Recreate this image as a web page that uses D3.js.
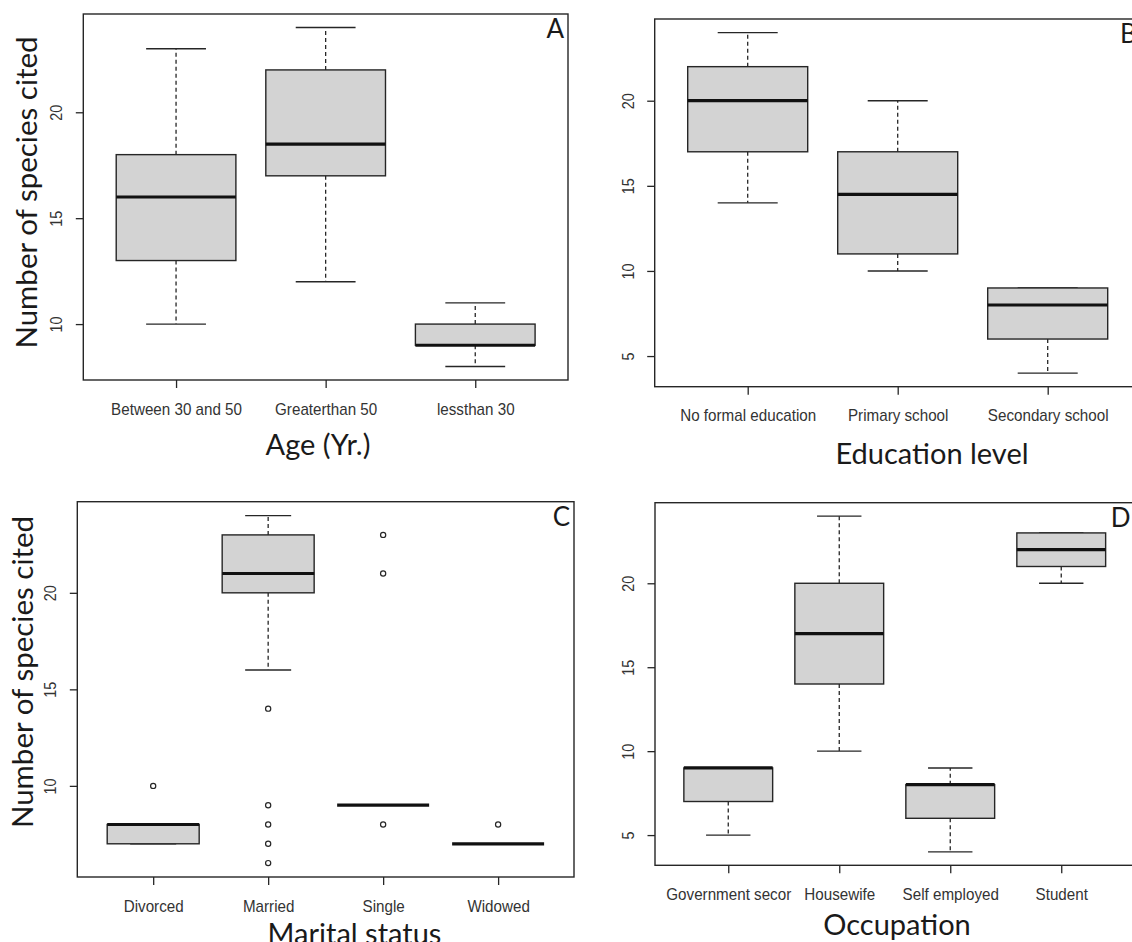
<!DOCTYPE html>
<html>
<head>
<meta charset="utf-8">
<script src="https://cdn.jsdelivr.net/npm/d3@7"></script>
<style>
  html, body { margin: 0; padding: 0; background: #fff; }
  svg { display: block; }
</style>
</head>
<body>
<svg id="chart" width="1132" height="942"></svg>
<script>
// ---- Data: five-number summaries [lower whisker, Q1, median, Q3, upper whisker] ----
const ageGroups = ["Between 30 and 50", "Greaterthan 50", "lessthan 30"];
const ageStats = [[10, 13, 16, 18, 23], [12, 17, 18.5, 22, 24], [8, 9, 9, 10, 11]];
const ageOutliers = [[], [], []];
const ageTicks = [10, 15, 20];

const educationLevels = ["No formal education", "Primary school", "Secondary school"];
const educationStats = [[14, 17, 20, 22, 24], [10, 11, 14.5, 17, 20], [4, 6, 8, 9, 9]];
const educationOutliers = [[], [], []];
const educationTicks = [5, 10, 15, 20];

const maritalGroups = ["Divorced", "Married", "Single", "Widowed"];
const maritalStats = [[7, 7, 8, 8, 8], [16, 20, 21, 23, 24], [9, 9, 9, 9, 9], [7, 7, 7, 7, 7]];
const maritalOutliers = [[10], [14, 9, 8, 7, 6], [23, 21, 8], [8]];
const maritalTicks = [10, 15, 20];

const occupations = ["Government secor", "Housewife", "Self employed", "Student"];
const occupationStats = [[5, 7, 9, 9, 9], [10, 14, 17, 20, 24], [4, 6, 8, 8, 9], [20, 21, 22, 23, 23]];
const occupationOutliers = [[], [], [], []];
const occupationTicks = [5, 10, 15, 20];

// ---- Panel layout ----
const panels = [
  { letter: "A", cats: ageGroups, stats: ageStats, outliers: ageOutliers, ticks: ageTicks,
    frame: { left: 83.3, right: 568, top: 14, bottom: 380 },
    xTitle: { text: "Age (Yr.)", x: 318, y: 455 },
    yTitle: { text: "Number of species cited", x: 37, y: 192.5 } },
  { letter: "B", cats: educationLevels, stats: educationStats, outliers: educationOutliers, ticks: educationTicks,
    frame: { left: 654.7, right: 1140.7, top: 19, bottom: 386.7 },
    xTitle: { text: "Education level", x: 932, y: 464 },
    yTitle: null },
  { letter: "C", cats: maritalGroups, stats: maritalStats, outliers: maritalOutliers, ticks: maritalTicks,
    frame: { left: 77.3, right: 574, top: 501.7, bottom: 877 },
    xTitle: { text: "Marital status", x: 354.5, y: 944 },
    yTitle: { text: "Number of species cited", x: 33, y: 672 } },
  { letter: "D", cats: occupations, stats: occupationStats, outliers: occupationOutliers, ticks: occupationTicks,
    frame: { left: 655, right: 1134.5, top: 502.7, bottom: 865.3 },
    xTitle: { text: "Occupation", x: 897, y: 935 },
    yTitle: null }
];

const svg = d3.select("#chart");
const INK = "#262626";
const TICK_FONT = "'Liberation Sans', Arial, sans-serif";
const TITLE_FONT = "Lato, 'Open Sans', sans-serif";

panels.forEach(p => {
  const n = p.cats.length;
  const f = p.frame;

  // Axis limits extended by 4% on each side, as in base-graphics boxplots
  const allVals = p.stats.flat().concat(p.outliers.flat());
  const lo = d3.min(allVals), hi = d3.max(allVals);
  const pad = (hi - lo) * 0.04;
  const y = d3.scaleLinear().domain([lo - pad, hi + pad]).range([f.bottom, f.top]);
  const x = d3.scaleLinear().domain([0.5 - 0.04 * n, n + 0.5 + 0.04 * n]).range([f.left, f.right]);

  const g = svg.append("g");
  const boxHalf = 0.4, capHalf = 0.2;

  // Boxes, whiskers, medians, outliers
  p.stats.forEach((s, i) => {
    const cx = x(i + 1);
    const [wLo, q1, med, q3, wHi] = s;
    const bx = g.append("g");
    // dashed whiskers
    bx.append("line").attr("x1", cx).attr("x2", cx).attr("y1", y(q3)).attr("y2", y(wHi))
      .attr("stroke", INK).attr("stroke-width", 1.3).attr("stroke-dasharray", "4,3");
    bx.append("line").attr("x1", cx).attr("x2", cx).attr("y1", y(q1)).attr("y2", y(wLo))
      .attr("stroke", INK).attr("stroke-width", 1.3).attr("stroke-dasharray", "4,3");
    // staples
    [wLo, wHi].forEach(v => {
      bx.append("line").attr("x1", x(i + 1 - capHalf)).attr("x2", x(i + 1 + capHalf))
        .attr("y1", y(v)).attr("y2", y(v)).attr("stroke", INK).attr("stroke-width", 1.4);
    });
    // box
    bx.append("rect").attr("x", x(i + 1 - boxHalf)).attr("y", y(q3))
      .attr("width", x(i + 1 + boxHalf) - x(i + 1 - boxHalf)).attr("height", y(q1) - y(q3))
      .attr("fill", "#d3d3d3").attr("stroke", INK).attr("stroke-width", 1.4);
    // median
    bx.append("line").attr("x1", x(i + 1 - boxHalf)).attr("x2", x(i + 1 + boxHalf))
      .attr("y1", y(med)).attr("y2", y(med)).attr("stroke", "#111").attr("stroke-width", 3.2);
    // outliers
    bx.selectAll("circle").data(p.outliers[i]).join("circle")
      .attr("cx", cx).attr("cy", d => y(d)).attr("r", 2.6)
      .attr("fill", "#fff").attr("stroke", INK).attr("stroke-width", 1.2);
  });

  // Y axis with rotated labels
  const yAxis = g.append("g").attr("transform", `translate(${f.left},0)`)
    .call(d3.axisLeft(y).tickValues(p.ticks).tickSize(7.5).tickSizeOuter(0).tickFormat(d3.format("d")));
  yAxis.select(".domain").remove();
  yAxis.selectAll(".tick line").attr("stroke", INK).attr("stroke-width", 1.3);
  yAxis.selectAll(".tick text")
    .attr("x", null).attr("dy", null).attr("text-anchor", "middle")
    .attr("transform", "translate(-21,0) rotate(-90) scale(0.9,1)")
    .attr("fill", "#333").style("font-family", TICK_FONT).style("font-size", "16px");

  // X axis with category labels
  const xAxis = g.append("g").attr("transform", `translate(0,${f.bottom})`)
    .call(d3.axisBottom(x).tickValues(d3.range(1, n + 1)).tickSize(8).tickSizeOuter(0)
      .tickFormat(i => p.cats[i - 1]));
  xAxis.select(".domain").remove();
  xAxis.selectAll(".tick line").attr("stroke", INK).attr("stroke-width", 1.3);
  xAxis.selectAll(".tick text")
    .attr("y", null).attr("dy", null).attr("text-anchor", "middle")
    .attr("transform", "translate(0,34.5) scale(0.95,1)")
    .attr("fill", "#333").style("font-family", TICK_FONT).style("font-size", "16px");

  // Plot frame
  g.append("rect").attr("x", f.left).attr("y", f.top)
    .attr("width", f.right - f.left).attr("height", f.bottom - f.top)
    .attr("fill", "none").attr("stroke", INK).attr("stroke-width", 1.4);

  // Panel letter
  g.append("text").attr("x", f.right - 4).attr("y", f.top + 24).attr("text-anchor", "end")
    .style("font-family", TITLE_FONT).style("font-size", "26px").attr("fill", "#1a1a1a")
    .text(p.letter);

  // Axis titles
  g.append("text").attr("x", p.xTitle.x).attr("y", p.xTitle.y).attr("text-anchor", "middle")
    .style("font-family", TITLE_FONT).style("font-size", "29px").attr("fill", "#1a1a1a")
    .text(p.xTitle.text);
  if (p.yTitle) {
    g.append("text").attr("text-anchor", "middle")
      .attr("transform", `translate(${p.yTitle.x},${p.yTitle.y}) rotate(-90)`)
      .style("font-family", TITLE_FONT).style("font-size", "29.5px").attr("fill", "#1a1a1a")
      .text(p.yTitle.text);
  }
});
</script>
</body>
</html>
